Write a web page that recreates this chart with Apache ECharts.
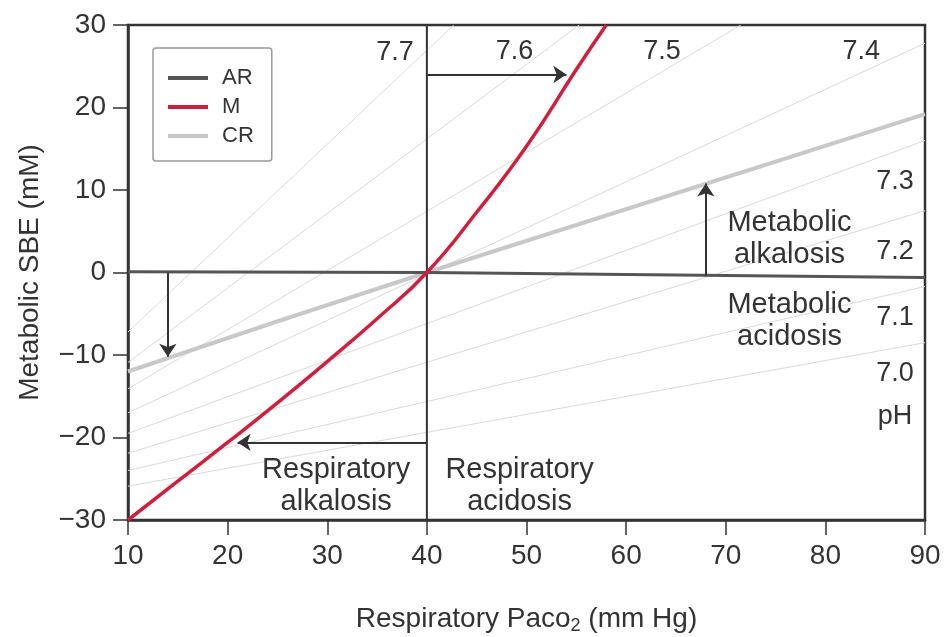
<!DOCTYPE html>
<html>
<head>
<meta charset="utf-8">
<script src="https://cdn.jsdelivr.net/npm/echarts@6/dist/echarts.min.js"></script>
<style>
  html, body { margin: 0; padding: 0; background: #fff; }
  #chart { width: 944px; height: 637px; }
</style>
</head>
<body>
<div id="chart"></div>
<script>
// values: x = Paco2 (mm Hg), y = SBE (mM)
var xTicks = [10, 90, 10];      // min, max, step
var yTicks = [-30, 30, 10];

var mCurve = [[10, -30], [15, -25.3], [20, -20.6], [25, -15.8], [30, -10.8], [35, -5.6],
              [40, 0], [45, 7.3], [50, 15.3], [55, 24.6], [58, 30]];
var crLine = [[10, -12], [40, 0], [90, 19.2]];
var arLine = [[10, 0.1], [40, 0], [90, -0.6]];
var normalPco2 = [[40, -30], [40, 30]];

// iso-pH lines, start and end points
var isoNames = ['7.7', '7.6', '7.5', '7.4', '7.3', '7.2', '7.1', '7.0'];
var isoStart = [[10, -7.2], [10, -10.9], [10, -14.1], [10, -17], [10, -19.5], [10, -21.9], [10, -24], [10, -25.9]];
var isoEnd = [[42.7, 30], [55.3, 30], [71.5, 30], [90, 27.8], [90, 16], [90, 7.5], [90, -1.7], [90, -8.5]];

var arrowRespAcid = [[40, 24], [54, 24]];
var arrowRespAlk = [[40, -20.6], [21, -20.6]];
var arrowMetAcid = [[14, 0], [14, -10.2]];
var arrowMetAlk = [[68, -0.4], [68, 10.8]];

var phLabelText = ['7.7', '7.6', '7.5', '7.4', '7.3', '7.2', '7.1', '7.0', 'pH'];
var phLabelPos = [[36.8, 26.7], [48.8, 26.8], [63.6, 26.8], [83.6, 26.8], [87, 11], [87, 2.5], [87, -5.4], [87, -12.3], [87, -17.4]];

var zoneText = ['Metabolic\nalkalosis', 'Metabolic\nacidosis', 'Respiratory\nalkalosis', 'Respiratory\nacidosis'];
var zonePos = [[76.4, 4.1], [76.4, -5.9], [30.9, -25.9], [49.3, -25.9]];

var FONT = 'Liberation Sans, Arial, Helvetica, sans-serif';
var INK = '#333';

function minusSign(v) {
	return String(v).replace('-', '\u2212');
}

var series = [];

// thin pH isopleths first so everything else sits on top
isoNames.forEach(function (n, i) {
	series.push({
		name: 'pH ' + n,
		type: 'line',
		data: [isoStart[i], isoEnd[i]],
		showSymbol: false,
		symbol: 'none',
		silent: true,
		lineStyle: { color: '#d9d9d9', width: 1 },
		z: 1
	});
});

series.push({
	name: 'CR', type: 'line', data: crLine, symbol: 'none', smooth: true,
	lineStyle: { color: '#c8c8c8', width: 4 }, itemStyle: { color: '#c8c8c8' }, z: 2
});
series.push({
	name: 'AR', type: 'line', data: arLine, symbol: 'none',
	lineStyle: { color: '#555', width: 3 }, itemStyle: { color: '#555' }, z: 3
});
series.push({
	name: 'normal', type: 'line', data: normalPco2, symbol: 'none', silent: true,
	lineStyle: { color: INK, width: 2 }, z: 3
});
series.push({
	name: 'M', type: 'line', data: mCurve, symbol: 'none', smooth: true,
	lineStyle: { color: '#cf1f3d', width: 3.5 }, itemStyle: { color: '#cf1f3d' }, z: 4
});

// arrows
series.push({
	name: 'arrows',
	type: 'lines',
	coordinateSystem: 'cartesian2d',
	symbol: ['none', 'arrow'],
	symbolSize: 13,
	silent: true,
	lineStyle: { color: INK, width: 2, opacity: 1 },
	data: [arrowRespAcid, arrowRespAlk, arrowMetAcid, arrowMetAlk].map(function (c) { return { coords: c }; }),
	z: 5
});

// pH labels
series.push({
	name: 'phLabels',
	type: 'scatter',
	symbolSize: 0,
	silent: true,
	itemStyle: { opacity: 1 },
	data: phLabelPos.map(function (p, i) { return { value: p, name: phLabelText[i] }; }),
	label: {
		show: true, position: [0, 0], formatter: '{b}', align: 'center', verticalAlign: 'middle',
		fontFamily: FONT, fontSize: 27, color: INK, textBorderWidth: 0, opacity: 1
	},
	z: 6
});

// region labels
series.push({
	name: 'zones',
	type: 'scatter',
	symbolSize: 0,
	silent: true,
	itemStyle: { opacity: 1 },
	data: zonePos.map(function (p, i) { return { value: p, name: zoneText[i] }; }),
	label: {
		show: true, position: [0, 0], formatter: '{b}', align: 'center', verticalAlign: 'middle',
		fontFamily: FONT, fontSize: 29, lineHeight: 32, color: INK, textBorderWidth: 0, opacity: 1
	},
	z: 6
});

var myChart = echarts.init(document.getElementById('chart'));
var option = {
	backgroundColor: '#fff',
	animation: false,
	grid: {
		show: true,
		left: 128, right: 19, top: 25, bottom: 117,
		borderColor: INK, borderWidth: 2.5,
		containLabel: false,
		outerBoundsMode: 'none'
	},
	legend: {
		data: ['AR', 'M', 'CR'],
		orient: 'vertical',
		left: 153, top: 48,
		icon: 'rect',
		itemWidth: 40, itemHeight: 4, itemGap: 7,
		padding: [19, 18, 14, 15],
		borderColor: '#999', borderWidth: 1.5, borderRadius: 3,
		backgroundColor: '#fff',
		selectedMode: false,
		textStyle: { fontFamily: FONT, fontSize: 22, lineHeight: 22, color: INK, padding: [0, 0, 0, 9] }
	},
	xAxis: {
		type: 'value',
		min: xTicks[0], max: xTicks[1], interval: xTicks[2],
		name: '{t|Respiratory Paco}{s|2}{t| (mm Hg)}',
		nameLocation: 'middle',
		nameGap: 83,
		nameTextStyle: {
			rich: {
				t: { fontFamily: FONT, fontSize: 28, color: INK },
				s: { fontFamily: FONT, fontSize: 18, color: INK, padding: [14, 0, 0, 0] }
			}
		},
		axisLine: { show: true, onZero: false, lineStyle: { color: INK, width: 2.5 } },
		axisTick: { show: true, inside: false, length: 15, lineStyle: { color: INK, width: 1.5 } },
		axisLabel: { margin: 22, fontFamily: FONT, fontSize: 28, color: INK },
		splitLine: { show: false }
	},
	yAxis: {
		type: 'value',
		min: yTicks[0], max: yTicks[1], interval: yTicks[2],
		name: 'Metabolic SBE (mM)',
		nameLocation: 'middle',
		nameGap: 84,
		nameTextStyle: { fontFamily: FONT, fontSize: 28, color: INK },
		axisLine: { show: true, onZero: false, lineStyle: { color: INK, width: 2.5 } },
		axisTick: { show: true, inside: false, length: 15, lineStyle: { color: INK, width: 1.5 } },
		axisLabel: { margin: 22, fontFamily: FONT, fontSize: 28, color: INK, formatter: minusSign },
		splitLine: { show: false }
	},
	series: series
};
myChart.setOption(option);
</script>
</body>
</html>
